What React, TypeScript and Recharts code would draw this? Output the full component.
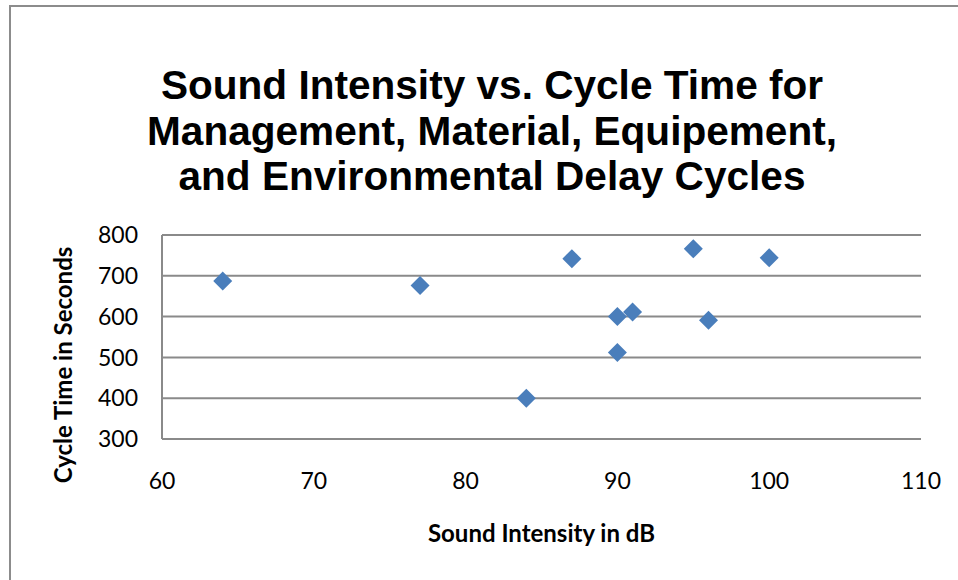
import { ScatterChart, Scatter, XAxis, YAxis, CartesianGrid, Label } from "recharts";

// sound intensity (dB) and cycle time (s) per delay cycle
const intensity = [64, 77, 84, 87, 90, 90, 91, 95, 96, 100];
const cycleTime = [687, 676, 400, 742, 600, 512, 611, 766, 591, 744];

const xTicks = [60, 70, 80, 90, 100, 110];
const yTicks = [300, 400, 500, 600, 700, 800];

const titleLines = [
  "Sound Intensity vs. Cycle Time for",
  "Management, Material, Equipement,",
  "and Environmental Delay Cycles",
];

const data = intensity.map((x, i) => ({ x, y: cycleTime[i] }));

const FONT = "Lato, 'Open Sans', sans-serif";
const TITLE_FONT = "'Liberation Sans', Arial, sans-serif";
const GRID = "#8a8a8a";

function Diamond(props: any) {
  const { cx, cy } = props;
  const r = 9.5;
  return (
    <polygon
      points={`${cx},${cy - r} ${cx + r},${cy} ${cx},${cy + r} ${cx - r},${cy}`}
      fill="#4a7ebb"
    />
  );
}

export default function App() {
  return (
    <div style={{ position: "absolute", left: 0, top: 0, width: 958, height: 580, background: "#fff", overflow: "hidden" }}>
      <div
        style={{
          position: "absolute",
          left: 9,
          top: 5,
          width: 960,
          height: 600,
          borderLeft: "2px solid #8c8c8c",
          borderTop: "2px solid #8c8c8c",
        }}
      />
      {titleLines.map((t, i) => (
        <div
          key={t}
          style={{
            position: "absolute",
            left: 0,
            top: 63 + i * 45.5,
            width: 984,
            height: 45,
            textAlign: "center",
            fontFamily: TITLE_FONT,
            fontWeight: 700,
            fontSize: 40.6,
            lineHeight: "45px",
            color: "#000",
          }}
        >
          {t}
        </div>
      ))}
      <div style={{ position: "absolute", left: 0, top: 0 }}>
        <ScatterChart width={958} height={580} margin={{ top: 235, right: 37, bottom: 0, left: 0 }}>
          <CartesianGrid vertical={false} stroke={GRID} strokeWidth={2} />
          <XAxis
            type="number"
            dataKey="x"
            domain={[60, 110]}
            ticks={xTicks}
            height={141}
            axisLine={false}
            tickLine={false}
            tickSize={0}
            tickMargin={34}
            tick={{ fill: "#000", fontSize: 23, fontFamily: FONT }}
          >
            <Label
              value="Sound Intensity in dB"
              position="insideBottom"
              offset={38}
              style={{ fill: "#000", fontSize: 24, fontWeight: 700, fontFamily: FONT }}
            />
          </XAxis>
          <YAxis
            type="number"
            dataKey="y"
            domain={[300, 800]}
            ticks={yTicks}
            width={162}
            axisLine={{ stroke: GRID, strokeWidth: 2 }}
            tickLine={false}
            tickSize={0}
            tickMargin={24}
            tick={{ fill: "#000", fontSize: 23, fontFamily: FONT }}
          >
            <Label
              content={() => (
                <text
                  x={62}
                  y={365}
                  transform="rotate(-90 62 365)"
                  textAnchor="middle"
                  dominantBaseline="central"
                  style={{ fill: "#000", fontSize: 24, fontWeight: 700, fontFamily: FONT }}
                >
                  Cycle Time in Seconds
                </text>
              )}
            />
          </YAxis>
          <Scatter data={data} shape={Diamond} isAnimationActive={false} />
        </ScatterChart>
      </div>
    </div>
  );
}
